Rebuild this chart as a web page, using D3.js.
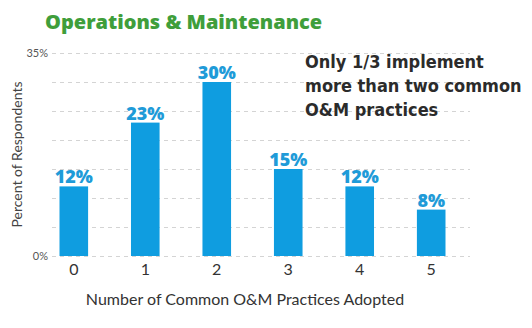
<!DOCTYPE html>
<html>
<head>
<meta charset="utf-8">
<script src="https://cdn.jsdelivr.net/npm/d3@7/dist/d3.min.js"></script>
<style>
  html, body { margin: 0; padding: 0; background: #fff; }
  svg { display: block; }
</style>
</head>
<body>
<svg id="chart" width="532" height="328"></svg>
<script>
// Share of respondents by number of common O&M practices adopted
const categories = ["0", "1", "2", "3", "4", "5"];
const percents = [12, 23, 30, 15, 12, 8];
const gridTicks = [0, 5, 10, 15, 20, 25, 30, 35];
const labelTicks = [0, 35];
const annotationLines = ["Only 1/3 implement", "more than two common", "O&M practices"];

const svg = d3.select("#chart");

const plot = { left: 52, right: 470, top: 53, bottom: 256 };

const x = d3.scaleBand()
  .domain(categories)
  .range([plot.left, 453])
  .paddingInner(0.6)
  .paddingOuter(0.105);

const y = d3.scaleLinear()
  .domain([0, 35])
  .range([plot.bottom, plot.top]);

// Title
svg.append("text")
  .attr("x", 45)
  .attr("y", 29)
  .attr("font-family", "'Open Sans', Lato, sans-serif")
  .attr("font-weight", 800)
  .attr("font-size", 20)
  .attr("fill", "#3f9e3b")
  .text("Operations & Maintenance");

// Dashed gridlines
svg.append("g")
  .selectAll("line")
  .data(gridTicks)
  .join("line")
  .attr("x1", plot.left)
  .attr("x2", plot.right)
  .attr("y1", d => Math.round(y(d)) + 0.5)
  .attr("y2", d => Math.round(y(d)) + 0.5)
  .attr("stroke", "#d4d4d4")
  .attr("stroke-width", 1)
  .attr("stroke-dasharray", "4,4");

// Y tick labels (0% and 35% only)
const yAxis = d3.axisLeft(y)
  .tickValues(labelTicks)
  .tickFormat(d => d + "%")
  .tickSize(0)
  .tickPadding(3);
const yg = svg.append("g")
  .attr("transform", `translate(${plot.left - 1},0)`)
  .call(yAxis);
yg.select(".domain").remove();
yg.selectAll("text")
  .attr("font-family", "Lato, sans-serif")
  .attr("font-size", 11)
  .attr("fill", "#555");

// Y axis title
svg.append("text")
  .attr("transform", `translate(22,${(plot.top + plot.bottom) / 2}) rotate(-90)`)
  .attr("text-anchor", "middle")
  .attr("font-family", "Lato, sans-serif")
  .attr("font-size", 14)
  .attr("fill", "#444")
  .text("Percent of Respondents");

// Bars
svg.append("g")
  .selectAll("rect")
  .data(percents)
  .join("rect")
  .attr("x", (d, i) => x(categories[i]))
  .attr("y", d => y(d))
  .attr("width", x.bandwidth())
  .attr("height", d => y(0) - y(d))
  .attr("fill", "#0f9de0");

// Value labels
svg.append("g")
  .selectAll("text")
  .data(percents)
  .join("text")
  .attr("x", (d, i) => x(categories[i]) + x.bandwidth() / 2)
  .attr("y", d => y(d) - 3)
  .attr("text-anchor", "middle")
  .attr("font-family", "'Open Sans', Lato, sans-serif")
  .attr("font-weight", 800)
  .attr("font-size", 18)
  .attr("fill", "#1f9bd8")
  .text(d => d + "%");

// X axis tick labels
const xAxis = d3.axisBottom(x).tickSize(0).tickPadding(8);
const xg = svg.append("g")
  .attr("transform", `translate(0,${plot.bottom})`)
  .call(xAxis);
xg.select(".domain").remove();
xg.selectAll("text")
  .attr("font-family", "Lato, sans-serif")
  .attr("font-size", 16)
  .attr("fill", "#333");

// X axis title
svg.append("text")
  .attr("x", 245)
  .attr("y", 305)
  .attr("text-anchor", "middle")
  .attr("font-family", "Lato, sans-serif")
  .attr("font-size", 16)
  .attr("fill", "#333")
  .text("Number of Common O&M Practices Adopted");

// Annotation
svg.append("g")
  .selectAll("text")
  .data(annotationLines)
  .join("text")
  .attr("x", 305)
  .attr("y", (d, i) => 68 + i * 24)
  .attr("font-family", "'DejaVu Sans Condensed', 'DejaVu Sans', sans-serif")
  .attr("font-stretch", "condensed")
  .attr("font-weight", "bold")
  .attr("font-size", 18)
  .attr("fill", "#2b2b2b")
  .text(d => d);
</script>
</body>
</html>
